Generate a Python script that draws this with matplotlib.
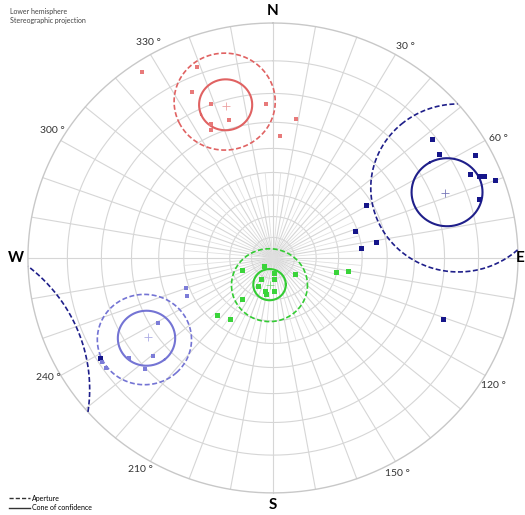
import numpy as np
import matplotlib.pyplot as plt
from matplotlib.lines import Line2D

plt.rcParams['font.family'] = ['Lato', 'DejaVu Sans']

# 数据: (trend, plunge), 单位: 度
red_trend = [339, 335, 339, 343, 336, 335, 357.5, 9, 3, 326]
red_plunge = [8, 14, 20, 27, 26, 28, 23.5, 28, 35, 2.5]
red_mean = (343.5, 22)
red_cone, red_aperture = 8.5, 16

navy_trend = [52, 57, 62, 66, 67.5, 68, 70, 73.5, 59.5, 71, 83, 80.5, 110.5, 239]
navy_plunge = [11, 12, 4, 7.3, 5.4, 4.2, 2, 7.5, 42.4, 51, 50, 44, 17, 11]
navy_mean = (68.5, 16)
navy_cone, navy_aperture = 10.5, 25

lilac_trend = [250, 245, 239.5, 229.5, 234, 228, 237.5, 235.5]
lilac_plunge = [48.5, 47.7, 33, 24.5, 18, 19.7, 10.8, 10.8]
lilac_mean = (236.5, 27)
lilac_cone, lilac_aperture = 9.7, 15.8

green_trend = [227, 248, 176, 208, 177.5, 208, 193, 191, 179, 127, 103.5, 100, 216, 223.5, 214]
green_plunge = [84.3, 74.7, 82.8, 78.2, 79.6, 74.8, 73.6, 72.3, 74, 77, 60.5, 55.3, 65.6, 53, 55]
green_mean = (187, 77)
green_cone, green_aperture = 7.5, 17.4

label_angles = [30, 60, 120, 150, 210, 240, 300, 330]
cardinals = {'N': 0, 'E': 90, 'S': 180, 'W': 270}


def project(trend, plunge):
    """下半球赤平投影 (等角)"""
    t = np.radians(trend)
    r = np.tan((np.pi / 2 - np.radians(plunge)) / 2)
    return r * np.sin(t), r * np.cos(t)


def small_circle(trend, plunge, radius, n=1441):
    """小圆投影, 越过水平面的部分翻到对侧"""
    t, p, a = np.radians([trend, plunge, radius])
    v = np.array([np.cos(p) * np.cos(t), np.cos(p) * np.sin(t), np.sin(p)])
    ref = np.array([0, 0, 1.0]) if abs(v[2]) < 0.9 else np.array([1.0, 0, 0])
    u1 = np.cross(v, ref)
    u1 /= np.linalg.norm(u1)
    u2 = np.cross(v, u1)
    phi = np.linspace(0, 2 * np.pi, n)
    w = np.cos(a) * v[:, None] + np.sin(a) * (np.cos(phi) * u1[:, None] + np.sin(phi) * u2[:, None])
    up = w[2] < 0
    w = w * np.where(up, -1, 1)
    x = w[1] / (1 + w[2])
    y = w[0] / (1 + w[2])
    breaks = np.where(np.diff(up.astype(int)) != 0)[0] + 1
    return np.insert(x, breaks, np.nan), np.insert(y, breaks, np.nan)


fig = plt.figure(figsize=(5.25, 5.15), dpi=100)
ax = fig.add_axes([0, 0, 1, 1])
ax.set_xlim(-1.114, 1.0286)
ax.set_ylim(-1.094, 1.098)
ax.axis('off')

# 网格
grid_c = '#d6d6d6'
az = np.linspace(0, 360, 721)
for p in range(10, 90, 10):
    ax.plot(*project(az, p), color=grid_c, lw=0.8, zorder=1)
pl = np.linspace(0, 90, 50)
for t in range(0, 360, 10):
    ax.plot(*project(np.full_like(pl, t), pl), color=grid_c, lw=0.8, zorder=1)
pl_in = np.linspace(50, 90, 20)
for t in range(5, 360, 10):
    ax.plot(*project(np.full_like(pl_in, t), pl_in), color='#e0e0e0', lw=0.6, zorder=1)
ax.plot(*project(az, 0), color='#c8c8c8', lw=1.0, zorder=1)

groups = [
    (red_trend, red_plunge, red_mean, red_cone, red_aperture, '#e06262', '#e87a7a', 3.2),
    (navy_trend, navy_plunge, navy_mean, navy_cone, navy_aperture, '#1f1f8a', '#16168a', 3.6),
    (lilac_trend, lilac_plunge, lilac_mean, lilac_cone, lilac_aperture, '#7474d4', '#7c7cd8', 3.4),
    (green_trend, green_plunge, green_mean, green_cone, green_aperture, '#33cc33', '#3ad43a', 3.6),
]
for tr, pl_, mean, cone, aper, lc, mc, ms in groups:
    ax.plot(*small_circle(*mean, aper), color=lc, lw=1.2, ls=(0, (3, 1.5)), zorder=2)
    ax.plot(*small_circle(*mean, cone), color=lc, lw=1.5, zorder=2)
    mx, my = project(*mean)
    ax.plot(mx, my, '+', color=lc, ms=6, mew=0.6, alpha=0.6, zorder=3)
    x, y = project(np.array(tr), np.array(pl_))
    ax.plot(x, y, 's', color=mc, ms=ms, mew=0, zorder=4)

# 标注
for a in label_angles:
    x, y = project(a + 1, 0)
    ax.text(x * 1.05, y * 1.05, f'{a} °', fontsize=7.5, color='#333333',
            ha='center', va='center')
for name, a in cardinals.items():
    x, y = project(a, 0)
    if name == 'E':
        # 右侧贴边
        ax.text(1.0266, y, name, fontsize=11, fontweight='bold', ha='right', va='center')
    else:
        ax.text(x * 1.05, y * 1.05, name, fontsize=11, fontweight='bold',
                ha='center', va='center')

fig.text(0.02, 0.985, 'Lower hemisphere\nStereographic projection', fontsize=5,
         color='#444444', va='top', ha='left', linespacing=1.3)

handles = [Line2D([], [], color='#333333', lw=1, ls=(0, (3, 1.5))),
           Line2D([], [], color='#333333', lw=1)]
fig.legend(handles, ['Aperture', 'Cone of confidence'], loc='lower left',
           bbox_to_anchor=(0.005, -0.005), frameon=False, fontsize=5,
           handlelength=3, handletextpad=0.3, labelspacing=0.4)

fig.savefig('out.png', dpi=100)
